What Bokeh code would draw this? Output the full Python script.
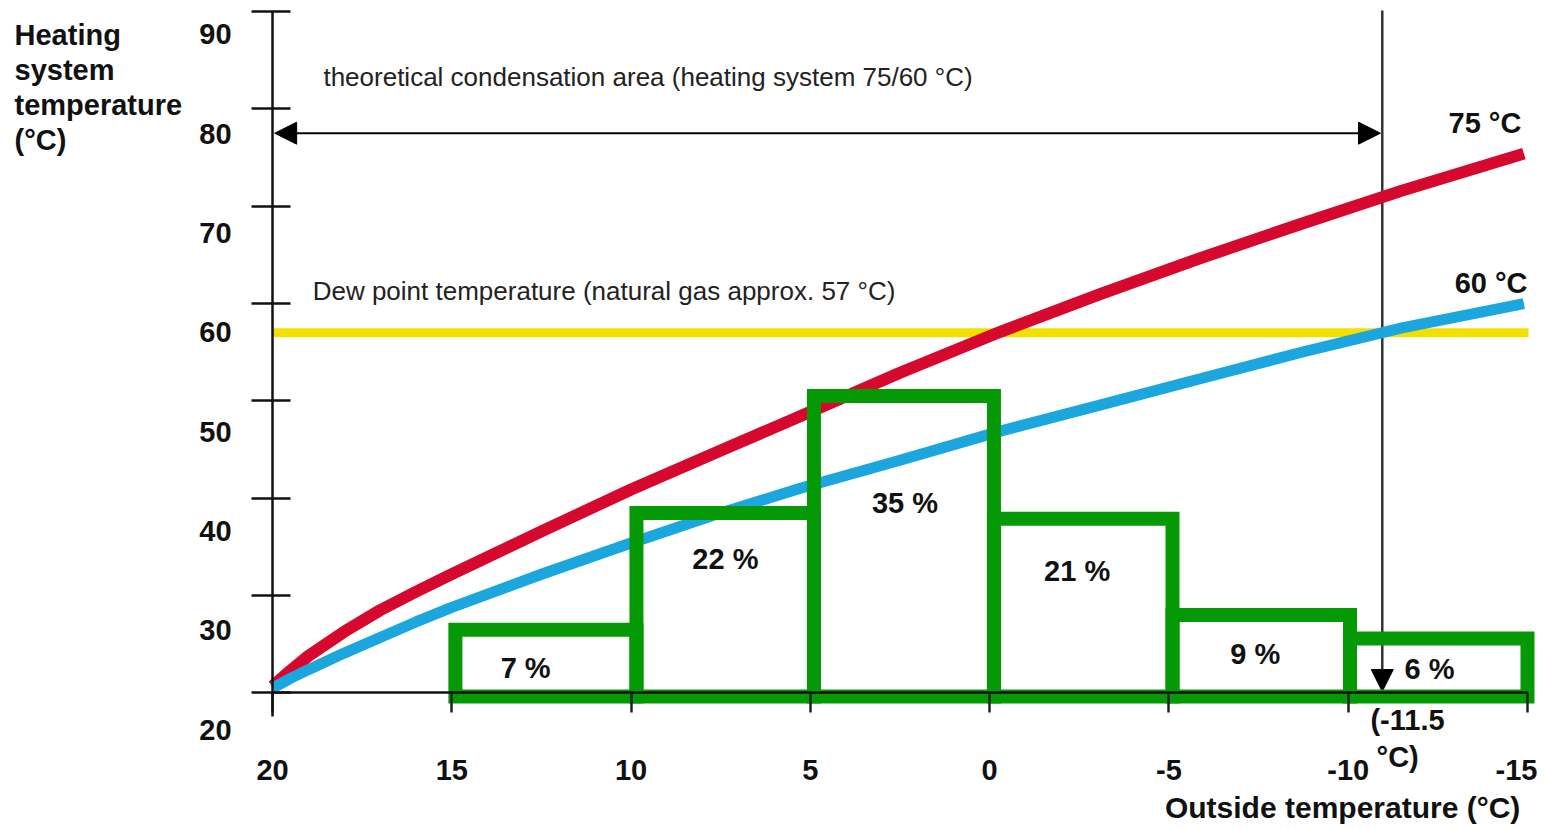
from bokeh.plotting import figure
from bokeh.models import (Range1d, LinearAxis, FixedTicker, Label, Arrow,
                          NormalHead, ColumnDataSource)
from bokeh.core.properties import value
from bokeh.embed import file_html
from bokeh.resources import INLINE

# ---------------- data ----------------
x_ticks = [20, 15, 10, 5, 0, -5, -10, -15]
x_tick_labels = ["20", "15", "10", "5", "0", "-5", "-10", "-15"]
y_ticks = [20, 30, 40, 50, 60, 70, 80, 90]
y_tick_labels = ["20", "30", "40", "50", "60", "70", "80", "90"]

outside_temp = [20.0, 19.5, 19.0, 18.0, 17.0, 16.0, 15.0, 12.5, 10.0, 7.5,
                5.3, 2.5, -0.3, -3.1, -5.9, -8.7, -11.5, -14.9]
supply_75 = [20.7, 22.3, 23.8, 26.3, 28.5, 30.4, 32.2, 36.6, 40.9, 44.9,
             48.4, 52.9, 57.1, 61.0, 64.7, 68.2, 71.6, 75.4]
supply_60 = [20.5, 21.5, 22.4, 24.1, 25.7, 27.3, 28.8, 32.2, 35.4, 38.5,
             41.0, 43.9, 46.9, 49.6, 52.3, 55.0, 57.5, 60.0]

dew_point = 57.0
design_temp = -10.95          # drawn position of the (-11.5 °C) marker
condensation_y = 77.5

bin_left = [14.9, 9.85, 4.9, -0.12, -5.1, -10.05]
bin_right = [9.85, 4.9, -0.12, -5.1, -10.05, -15.0]
bin_top = [26.5, 38.5, 50.5, 37.9, 28.0, 25.6]
bin_bottom = 19.64
share_labels = ["7 %", "22 %", "35 %", "21 %", "9 %", "6 %"]
share_label_x = [12.94, 7.37, 2.36, -2.44, -7.41, -12.27]
share_label_y = [22.57, 33.81, 39.52, 32.53, 24.0, 22.47]

FONT = "Liberation Sans"
INK = "#111111"
BOLD = "29px"

# ---------------- figure (frame covers the whole canvas) ----------------
p = figure(width=1537, height=829, title=None,
           x_range=Range1d(27.586, -15.279), y_range=Range1d(5.98, 91.127),
           output_backend="svg", toolbar_location=None,
           min_border_left=0, min_border_right=0,
           min_border_top=0, min_border_bottom=0)
p.outline_line_color = None
p.grid.visible = False
p.background_fill_color = "white"
p.border_fill_color = "white"

# y axis: line + tick marks, pinned at x = 20
ya = p.yaxis[0]
ya.fixed_location = 20
ya.ticker = FixedTicker(ticks=y_ticks)
ya.bounds = (17.6, 90)
ya.major_tick_in = 18
ya.major_tick_out = 21
ya.major_tick_line_width = 2.5
ya.major_tick_line_color = INK
ya.minor_tick_line_color = None
ya.axis_line_width = 2.5
ya.axis_line_color = INK
ya.major_label_overrides = {t: "" for t in y_ticks}
ya.major_label_standoff = 0

# y axis labels (printed slightly lower than the ticks, on their own scale)
p.extra_y_ranges = {"lab": Range1d(9.93, 93.424)}
yl = LinearAxis(y_range_name="lab", ticker=FixedTicker(ticks=y_ticks), fixed_location=20)
yl.major_label_overrides = dict(zip(y_ticks, y_tick_labels))
yl.axis_line_color = None
yl.major_tick_line_color = None
yl.minor_tick_line_color = None
yl.major_tick_in = 0
yl.major_tick_out = 0
yl.major_label_standoff = 41
yl.major_label_text_font = FONT
yl.major_label_text_font_style = "bold"
yl.major_label_text_font_size = BOLD
yl.major_label_text_color = INK
p.add_layout(yl, "left")

# x axis pinned at y = 20
xa = p.xaxis[0]
xa.fixed_location = 20
xa.ticker = FixedTicker(ticks=x_ticks)
xa.bounds = (-15, 20)
xa.major_label_overrides = dict(zip(x_ticks, x_tick_labels))
xa.axis_line_color = INK
xa.axis_line_width = 2.5
xa.major_tick_line_color = "#222222"
xa.major_tick_line_width = 2.5
xa.minor_tick_line_color = None
xa.major_tick_in = 0
xa.major_tick_out = 20
xa.major_label_standoff = 47
xa.major_label_text_font = FONT
xa.major_label_text_font_style = "bold"
xa.major_label_text_font_size = BOLD
xa.major_label_text_color = INK

# arrows (under the curves)
head = dict(size=22, fill_color="black", line_color="black", line_width=1)
p.add_layout(Arrow(x_start=design_temp, y_start=90.1, x_end=design_temp, y_end=20.15,
                   line_color="#333333", line_width=2.5, level="underlay",
                   end=NormalHead(**head)))
p.add_layout(Arrow(x_start=19.94, y_start=condensation_y, x_end=design_temp + 0.05,
                   y_end=condensation_y, line_color="black", line_width=2, level="underlay",
                   start=NormalHead(**head), end=NormalHead(**head)))

# dew point line
p.segment(x0=[20], y0=[dew_point], x1=[-15.03], y1=[dew_point],
          line_color="#f2e000", line_width=9)

# heating curves
p.line(outside_temp, supply_75, line_color="#d7082e", line_width=12, line_join="round")
p.line(outside_temp, supply_60, line_color="#1ba6de", line_width=11, line_join="round")

# frequency boxes
bins = ColumnDataSource(dict(left=bin_left, right=bin_right, top=bin_top,
                             bottom=[bin_bottom] * len(bin_top)))
p.quad(left="left", right="right", top="top", bottom="bottom", source=bins,
       fill_color=None, line_color="#059a05", line_width=14, line_join="miter")

share_src = ColumnDataSource(dict(x=share_label_x, y=share_label_y, t=share_labels))
p.text(x="x", y="y", text="t", source=share_src, text_align="center",
       text_baseline="middle", text_font=value(FONT), text_font_style="bold",
       text_font_size=value(BOLD), text_color=INK)

# annotations
def lab(x, y, t, size=BOLD, style="bold", align="left", color=INK):
    p.add_layout(Label(x=x, y=y + 1.03, text=t, text_font=FONT, text_font_style=style,
                       text_font_size=size, text_align=align,
                       text_baseline="alphabetic", text_color=color))

for yy, t in zip([86.51, 82.91, 79.32, 75.72], ["Heating", "system", "temperature", "(°C)"]):
    lab(27.195, yy, t)

lab(-14.8, 7.25, "Outside temperature (°C)", size="30px", align="right")
lab(-10.62, 16.2, "(-11.5")
lab(-10.79, 12.35, "°C)")
lab(-14.83, 77.47, "75 °C", align="right")
lab(-15.0, 61.03, "60 °C", align="right")
lab(18.58, 82.29, "theoretical condensation area (heating system 75/60 °C)",
    size="26px", style="normal", color="#222222")
lab(18.88, 60.31, "Dew point temperature (natural gas approx. 57 °C)",
    size="26px", style="normal", color="#222222")

open("out.html", "w").write(file_html(p, INLINE))
